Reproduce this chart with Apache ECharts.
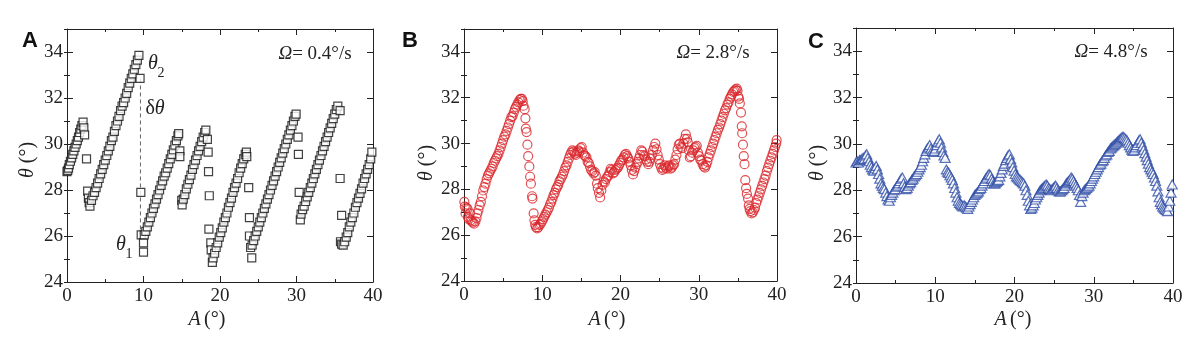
<!DOCTYPE html>
<html>
<head>
<meta charset="utf-8">
<script src="https://cdn.jsdelivr.net/npm/echarts@6/dist/echarts.min.js"></script>
<style>
  html, body { margin: 0; padding: 0; background: #fff; }
  #chart { width: 1200px; height: 341px; }
</style>
</head>
<body>
<div id="chart"></div>
<script>
// panel A (Ω = 0.4°/s): stick-slip ramps, [A, θ]
const segA1 = [[0,28.8],[0.1,28.85],[0.2,28.95],[0.3,29.1],[0.45,29.25],[0.6,29.4],[0.75,29.55],[0.9,29.7],[1.05,29.85],[1.2,30.0],[1.35,30.15],[1.5,30.3],[1.65,30.5],[1.8,30.65],[1.95,30.8],[2.1,30.95],[2.2,30.7],[2.3,30.4],[2.55,29.35],[2.7,27.95],[2.8,27.65],[2.9,27.45]];
const segA2 = [[3.0,27.3],[3.2,27.55],[3.4,27.75],[3.6,27.9],[3.8,28.1],[4.0,28.3],[4.2,28.5],[4.4,28.7],[4.6,28.9],[4.8,29.1],[5.0,29.3],[5.2,29.5],[5.4,29.7],[5.6,29.9],[5.8,30.15],[6.0,30.3],[6.2,30.55],[6.4,30.8],[6.6,31.0],[6.8,31.2],[7.0,31.45],[7.2,31.65],[7.4,31.8],[7.6,32.0],[7.8,32.2],[8.0,32.45],[8.2,32.65],[8.4,32.85],[8.6,33.05],[8.8,33.25],[9.0,33.45],[9.2,33.65],[9.4,33.85],[9.55,32.85],[9.65,27.9],[9.7,26.05],[10.0,25.7],[10.0,25.3]];
const segA3 = [[10.1,26.05],[10.3,26.2],[10.5,26.4],[10.7,26.6],[10.9,26.8],[11.1,27.0],[11.3,27.2],[11.5,27.4],[11.7,27.6],[11.9,27.8],[12.1,28.0],[12.3,28.2],[12.5,28.4],[12.7,28.6],[12.9,28.75],[13.1,28.95],[13.3,29.15],[13.5,29.35],[13.7,29.55],[13.9,29.75],[14.1,29.95],[14.3,30.15],[14.5,30.35],[14.6,30.45],[14.75,29.7],[14.75,29.45]];
const segA4 = [[15.0,27.55],[15.05,27.35],[15.2,27.6],[15.4,27.8],[15.6,28.05],[15.8,28.25],[16.0,28.45],[16.2,28.65],[16.4,28.9],[16.6,29.1],[16.8,29.3],[17.0,29.5],[17.2,29.7],[17.4,29.9],[17.6,30.1],[17.8,30.3],[18.0,30.5],[18.15,30.6],[18.35,30.2],[18.45,29.65],[18.5,28.8],[18.6,27.75],[18.55,26.3],[18.8,25.7],[18.85,25.4]];
const segA5 = [[19.0,24.85],[19.1,25.05],[19.3,25.25],[19.5,25.5],[19.7,25.7],[19.9,25.95],[20.1,26.15],[20.3,26.35],[20.5,26.6],[20.7,26.8],[20.9,27.0],[21.1,27.25],[21.3,27.45],[21.5,27.65],[21.7,27.9],[21.9,28.1],[22.1,28.3],[22.3,28.5],[22.5,28.75],[22.7,28.95],[22.9,29.15],[23.1,29.35],[23.3,29.55],[23.45,29.65],[23.5,29.45],[23.75,28.1],[23.85,26.8],[23.85,26.0],[24.15,25.05]];
const segA6 = [[24.0,25.5],[24.2,25.6],[24.4,25.8],[24.6,26.0],[24.8,26.2],[25.0,26.4],[25.2,26.6],[25.4,26.8],[25.6,27.0],[25.8,27.2],[26.0,27.4],[26.2,27.6],[26.4,27.8],[26.6,28.0],[26.8,28.2],[27.0,28.4],[27.2,28.6],[27.4,28.8],[27.6,29.0],[27.8,29.2],[28.0,29.4],[28.2,29.6],[28.4,29.8],[28.6,30.0],[28.8,30.2],[29.0,30.4],[29.2,30.6],[29.4,30.8],[29.6,31.0],[29.8,31.2],[29.95,31.3],[30.2,30.3],[30.25,29.55],[30.35,27.9]];
const segA7 = [[30.5,26.7],[30.6,26.95],[30.8,27.15],[31.0,27.3],[31.2,27.5],[31.4,27.7],[31.6,27.9],[31.8,28.1],[32.0,28.3],[32.2,28.5],[32.4,28.7],[32.6,28.9],[32.8,29.1],[33.0,29.3],[33.2,29.5],[33.4,29.7],[33.6,29.9],[33.8,30.1],[34.0,30.3],[34.2,30.5],[34.4,30.7],[34.6,30.9],[34.8,31.1],[35.0,31.3],[35.2,31.5],[35.4,31.65],[35.7,31.45],[35.7,28.5],[35.9,26.9]];
const segA8 = [[35.75,25.75],[35.9,25.65],[36.1,25.6],[36.3,25.75],[36.5,25.95],[36.7,26.15],[36.9,26.4],[37.1,26.6],[37.3,26.8],[37.5,27.0],[37.7,27.25],[37.9,27.45],[38.1,27.65],[38.3,27.85],[38.5,28.05],[38.7,28.3],[38.9,28.5],[39.1,28.7],[39.3,28.9],[39.5,29.1],[39.7,29.35],[39.85,29.65]];
// δθ guide between θ1 and θ2
const slipMarkA = [[9.6,32.85],[9.6,26.05]];

// panel B (Ω = 2.8°/s)
const dataB = [[0.05,27.45],[0.1,27.25],[0.2,26.95],[0.3,27.2],[0.45,27.15],[0.5,26.8],[0.6,26.7],[0.75,26.95],[0.85,26.65],[1.0,26.6],[1.15,26.55],[1.3,26.5],[1.45,26.6],[1.6,26.75],[1.7,26.95],[1.85,27.1],[2.0,27.3],[2.15,27.45],[2.3,27.7],[2.45,27.95],[2.6,28.1],[2.75,28.25],[2.9,28.45],[3.05,28.6],[3.2,28.7],[3.35,28.8],[3.5,28.9],[3.65,29.0],[3.8,29.15],[3.95,29.25],[4.1,29.35],[4.25,29.45],[4.4,29.55],[4.55,29.7],[4.7,29.85],[4.85,30.0],[5.0,30.15],[5.15,30.3],[5.3,30.4],[5.45,30.55],[5.6,30.7],[5.75,30.85],[5.9,31.0],[6.05,31.15],[6.2,31.2],[6.35,31.35],[6.5,31.5],[6.65,31.6],[6.8,31.7],[6.95,31.8],[7.1,31.9],[7.25,31.95],[7.4,31.95],[7.5,31.85],[7.6,31.65],[7.75,31.5],[7.85,31.1],[7.9,30.65],[8.0,30.5],[8.1,29.95],[8.2,29.45],[8.35,29.0],[8.45,28.55],[8.55,28.25],[8.7,27.7],[8.75,27.6],[8.9,26.95],[9.0,26.65],[9.1,26.45],[9.2,26.35],[9.35,26.3],[9.5,26.35],[9.65,26.45],[9.8,26.5],[9.95,26.6],[10.1,26.7],[10.25,26.8],[10.4,26.9],[10.55,27.0],[10.7,27.1],[10.85,27.2],[11.0,27.35],[11.15,27.45],[11.3,27.6],[11.45,27.75],[11.6,27.85],[11.75,28.0],[11.9,28.1],[12.05,28.2],[12.2,28.35],[12.35,28.45],[12.5,28.55],[12.65,28.65],[12.8,28.8],[12.95,28.95],[13.1,29.05],[13.25,29.2],[13.4,29.35],[13.55,29.5],[13.7,29.6],[13.85,29.7],[14.0,29.65],[14.15,29.55],[14.3,29.5],[14.45,29.6],[14.6,29.7],[14.75,29.65],[14.9,29.8],[15.05,29.85],[15.2,29.6],[15.35,29.5],[15.5,29.45],[15.65,29.4],[15.8,29.2],[15.95,29.15],[16.1,29.0],[16.25,28.85],[16.4,28.8],[16.55,28.7],[16.7,28.75],[16.85,28.6],[17.0,28.25],[17.1,28.05],[17.25,27.85],[17.4,27.65],[17.55,27.95],[17.7,28.2],[17.85,28.35],[18.0,28.3],[18.15,28.45],[18.3,28.55],[18.45,28.6],[18.6,28.75],[18.75,28.9],[18.9,28.85],[19.05,28.7],[19.2,28.75],[19.35,28.85],[19.5,28.9],[19.65,28.95],[19.8,29.05],[19.95,29.15],[20.1,29.25],[20.25,29.3],[20.4,29.4],[20.55,29.5],[20.7,29.55],[20.85,29.45],[21.0,29.35],[21.15,29.2],[21.3,29.05],[21.45,28.85],[21.6,28.65],[21.75,28.8],[21.9,28.95],[22.05,29.1],[22.2,29.2],[22.35,29.35],[22.5,29.5],[22.65,29.7],[22.8,29.65],[22.95,29.5],[23.1,29.45],[23.25,29.3],[23.4,29.2],[23.55,29.1],[23.7,29.2],[23.85,29.35],[24.0,29.5],[24.15,29.7],[24.3,29.85],[24.45,30.0],[24.6,29.75],[24.75,29.5],[24.9,29.3],[25.05,29.1],[25.2,28.95],[25.35,28.85],[25.5,28.9],[25.65,29.05],[25.8,28.95],[25.95,28.9],[26.1,29.0],[26.25,29.05],[26.4,28.9],[26.55,28.95],[26.7,29.05],[26.85,29.1],[27.0,29.3],[27.15,29.5],[27.3,29.75],[27.45,29.95],[27.6,30.0],[27.75,29.85],[27.9,29.8],[28.05,30.0],[28.2,30.2],[28.35,30.4],[28.5,30.2],[28.6,30.05],[28.75,29.7],[28.85,29.4],[29.0,29.45],[29.15,29.6],[29.3,29.7],[29.45,29.8],[29.6,29.85],[29.75,29.9],[29.9,29.6],[30.05,29.45],[30.2,29.3],[30.35,29.25],[30.5,29.1],[30.65,29.0],[30.8,28.95],[30.95,29.05],[31.1,29.2],[31.25,29.4],[31.4,29.55],[31.55,29.7],[31.7,29.85],[31.85,30.0],[32.0,30.15],[32.15,30.3],[32.3,30.45],[32.45,30.6],[32.6,30.7],[32.75,30.85],[32.9,31.0],[33.05,31.15],[33.2,31.3],[33.35,31.45],[33.5,31.55],[33.65,31.7],[33.8,31.8],[33.95,31.95],[34.1,32.05],[34.25,32.15],[34.4,32.25],[34.55,32.3],[34.7,32.35],[34.85,32.4],[34.95,32.3],[35.05,32.05],[35.15,31.95],[35.25,31.75],[35.4,31.35],[35.5,30.75],[35.55,30.45],[35.65,29.95],[35.75,29.45],[35.85,29.1],[35.95,28.4],[36.05,28.05],[36.15,27.8],[36.3,27.6],[36.4,27.3],[36.5,27.15],[36.6,27.05],[36.75,26.95],[36.9,27.0],[37.05,27.1],[37.2,27.2],[37.35,27.4],[37.5,27.55],[37.65,27.7],[37.8,27.85],[37.95,28.0],[38.1,28.15],[38.25,28.3],[38.4,28.45],[38.55,28.6],[38.7,28.8],[38.85,28.95],[39.0,29.1],[39.15,29.25],[39.3,29.4],[39.45,29.55],[39.6,29.7],[39.75,29.85],[39.9,30.0],[39.95,30.15]];

// panel C (Ω = 4.8°/s)
const dataC = [[0.0,29.2],[0.15,29.25],[0.3,29.2],[0.45,29.3],[0.6,29.3],[0.75,29.35],[0.9,29.4],[1.05,29.35],[1.2,29.5],[1.35,29.55],[1.5,29.4],[1.65,29.25],[1.8,29.1],[1.95,29.0],[2.1,28.9],[2.25,28.85],[2.4,28.95],[2.55,29.05],[2.7,28.9],[2.85,28.7],[3.0,28.5],[3.15,28.3],[3.3,28.2],[3.45,28.1],[3.6,28.05],[3.75,27.9],[3.9,27.75],[4.05,27.6],[4.2,27.55],[4.35,27.7],[4.5,27.8],[4.65,27.9],[4.8,28.0],[4.95,28.05],[5.1,28.15],[5.25,28.2],[5.4,28.3],[5.55,28.4],[5.7,28.5],[5.85,28.55],[6.0,28.3],[6.15,28.15],[6.3,28.05],[6.45,28.1],[6.6,28.2],[6.75,28.3],[6.9,28.35],[7.05,28.45],[7.2,28.5],[7.35,28.6],[7.5,28.65],[7.65,28.7],[7.8,28.8],[7.95,28.9],[8.1,29.0],[8.25,29.1],[8.4,29.25],[8.55,29.4],[8.7,29.55],[8.85,29.7],[9.0,29.8],[9.15,29.85],[9.3,29.95],[9.45,29.8],[9.6,29.7],[9.75,29.65],[9.9,29.7],[10.05,29.8],[10.2,29.95],[10.35,30.1],[10.5,30.2],[10.65,30.05],[10.8,29.85],[10.95,29.65],[11.1,29.5],[11.25,29.4],[11.4,28.9],[11.55,28.8],[11.7,28.75],[11.85,28.65],[12.0,28.55],[12.15,28.45],[12.3,28.3],[12.45,28.1],[12.6,27.9],[12.75,27.7],[12.9,27.55],[13.05,27.45],[13.2,27.4],[13.35,27.35],[13.5,27.3],[13.65,27.35],[13.8,27.3],[13.95,27.25],[14.1,27.2],[14.25,27.3],[14.4,27.4],[14.55,27.5],[14.7,27.6],[14.85,27.7],[15.0,27.8],[15.15,27.85],[15.3,27.9],[15.45,27.95],[15.6,28.05],[15.75,28.1],[15.9,28.2],[16.05,28.3],[16.2,28.4],[16.35,28.5],[16.5,28.55],[16.65,28.65],[16.8,28.7],[16.95,28.65],[17.1,28.5],[17.25,28.4],[17.4,28.3],[17.55,28.3],[17.7,28.35],[17.85,28.4],[18.0,28.45],[18.15,28.6],[18.3,28.75],[18.45,28.9],[18.6,29.05],[18.75,29.15],[18.9,29.3],[19.05,29.4],[19.2,29.5],[19.35,29.55],[19.5,29.35],[19.65,29.2],[19.8,29.0],[19.95,28.85],[20.1,28.7],[20.25,28.6],[20.4,28.55],[20.55,28.5],[20.7,28.45],[20.85,28.4],[21.0,28.35],[21.15,28.3],[21.3,28.2],[21.45,28.0],[21.6,27.8],[21.75,27.55],[21.9,27.35],[22.05,27.2],[22.2,27.25],[22.35,27.35],[22.5,27.45],[22.65,27.6],[22.8,27.7],[22.95,27.8],[23.1,27.9],[23.25,28.0],[23.4,28.05],[23.55,28.1],[23.7,28.15],[23.85,28.2],[24.0,28.25],[24.15,28.2],[24.3,28.1],[24.45,28.05],[24.6,28.0],[24.75,28.05],[24.9,28.1],[25.05,28.15],[25.2,28.2],[25.35,28.1],[25.5,28.0],[25.65,27.95],[25.8,27.95],[25.95,28.0],[26.1,28.05],[26.25,28.1],[26.4,28.2],[26.55,28.3],[26.7,28.35],[26.85,28.4],[27.0,28.45],[27.15,28.55],[27.3,28.5],[27.45,28.4],[27.6,28.3],[27.75,28.2],[27.9,28.1],[28.05,28.0],[28.2,27.8],[28.35,27.5],[28.5,27.75],[28.65,27.9],[28.8,28.0],[28.95,28.05],[29.1,28.1],[29.25,28.15],[29.4,28.2],[29.55,28.3],[29.7,28.4],[29.85,28.5],[30.0,28.6],[30.15,28.7],[30.3,28.8],[30.45,28.9],[30.6,29.0],[30.75,29.1],[30.9,29.15],[31.05,29.25],[31.2,29.3],[31.35,29.4],[31.5,29.5],[31.65,29.55],[31.8,29.65],[31.95,29.7],[32.1,29.8],[32.25,29.85],[32.4,29.9],[32.55,29.95],[32.7,30.0],[32.85,30.05],[33.0,30.1],[33.15,30.15],[33.3,30.2],[33.45,30.25],[33.6,30.3],[33.75,30.3],[33.9,30.25],[34.05,30.2],[34.2,30.15],[34.35,30.05],[34.5,29.95],[34.65,29.85],[34.8,29.75],[34.95,29.7],[35.1,29.75],[35.25,29.85],[35.4,29.95],[35.55,30.05],[35.7,30.15],[35.85,30.2],[36.0,30.05],[36.15,29.9],[36.3,29.75],[36.45,29.6],[36.6,29.45],[36.75,29.3],[36.9,29.15],[37.05,29.0],[37.2,28.9],[37.35,28.8],[37.5,28.7],[37.65,28.55],[37.8,28.4],[37.95,28.2],[38.1,27.95],[38.25,27.7],[38.4,27.5],[38.55,27.4],[38.7,27.3],[38.85,27.25],[39.0,27.2],[39.15,27.15],[39.3,27.1],[39.45,27.3],[39.6,27.55],[39.75,27.9],[39.9,28.25]];

const panelLabels = ['A', 'B', 'C'];
const omegaLabels = ['0.4°/s', '2.8°/s', '4.8°/s'];
const xRange = [0, 40];
const yRange = [24, 35];

const serif = '"Liberation Serif", "DejaVu Serif", serif';
const ink = '#222';

const boxes = [
  { left: 67, top: 29, width: 306, height: 253 },
  { left: 464, top: 29, width: 313, height: 252 },
  { left: 856, top: 28, width: 317, height: 255 }
];

const chart = echarts.init(document.getElementById('chart'));

const xAxes = [];
const yAxes = [];
boxes.forEach((b, i) => {
  ['bottom', 'top'].forEach(pos => {
    xAxes.push({
      gridIndex: i, type: 'value', position: pos,
      min: xRange[0], max: xRange[1], interval: 10,
      axisLine: { onZero: false, lineStyle: { color: ink, width: 1 } },
      axisTick: { inside: true, length: 6, lineStyle: { color: ink } },
      minorTick: { show: true, splitNumber: 2, length: 3, lineStyle: { color: ink } },
      splitLine: { show: false },
      axisLabel: { show: pos === 'bottom', margin: 5, fontFamily: serif, fontSize: 19, color: ink }
    });
  });
  ['left', 'right'].forEach(pos => {
    // major ticks + labels every 2
    yAxes.push({
      gridIndex: i, type: 'value', position: pos,
      min: yRange[0], max: yRange[1], interval: 2,
      axisLine: { onZero: false, lineStyle: { color: ink, width: 1 } },
      axisTick: { inside: true, length: 6, lineStyle: { color: ink } },
      splitLine: { show: false },
      axisLabel: { show: pos === 'left', showMaxLabel: false, margin: 4, fontFamily: serif, fontSize: 19, color: ink }
    });
    // minor ticks every 1
    yAxes.push({
      gridIndex: i, type: 'value', position: pos,
      min: yRange[0], max: yRange[1], interval: 1,
      axisLine: { show: false },
      axisTick: { inside: true, length: 3, lineStyle: { color: ink } },
      splitLine: { show: false },
      axisLabel: { show: false }
    });
  });
});

const squares = {
  symbol: 'rect', symbolSize: 8,
  itemStyle: { color: '#fff', borderColor: '#111', borderWidth: 1.2 }
};

const series = [
  {
    type: 'line', xAxisIndex: 0, yAxisIndex: 0, data: slipMarkA,
    symbol: 'none', silent: true, z: 1,
    lineStyle: { color: '#666', width: 1, type: [4, 3] }
  }
];
[segA1, segA2, segA3, segA4, segA5, segA6, segA7, segA8].forEach(seg => {
  series.push(Object.assign({ type: 'scatter', xAxisIndex: 0, yAxisIndex: 0, data: seg, z: 2 }, squares));
});
series.push({
  type: 'scatter', xAxisIndex: 2, yAxisIndex: 4, data: dataB,
  symbol: 'circle', symbolSize: 9,
  itemStyle: { color: 'rgba(255,255,255,0)', borderColor: '#d9252b', borderWidth: 1.2 }
});
series.push({
  type: 'scatter', xAxisIndex: 4, yAxisIndex: 8, data: dataC,
  symbol: 'triangle', symbolSize: [10, 9],
  itemStyle: { color: '#fff', borderColor: '#2f4ea6', borderWidth: 1.2 }
});

// texts
const graphic = [];
const letterPos = [[30, 41], [410, 41], [816, 42]];
const omegaPos = [[315, 54], [713, 53], [1111, 52]];
const xNamePos = [[207, 320], [607, 320], [1013, 320]];
const yNamePos = [[28, 160], [427, 163], [818, 163]];
const rich = {
  i: { fontFamily: serif, fontStyle: 'italic', fontSize: 20, fill: ink },
  n: { fontFamily: serif, fontSize: 20, fill: ink },
  io: { fontFamily: serif, fontStyle: 'italic', fontSize: 19, fill: ink },
  no: { fontFamily: serif, fontSize: 19, fill: ink }
};
panelLabels.forEach((l, i) => {
  graphic.push({
    type: 'text', x: letterPos[i][0], y: letterPos[i][1],
    style: { text: l, font: 'bold 22px "Liberation Sans", Arial, sans-serif', fill: '#111', align: 'center', verticalAlign: 'middle' }
  });
  graphic.push({
    type: 'text', x: omegaPos[i][0], y: omegaPos[i][1],
    style: { text: '{io|Ω}{no|= ' + omegaLabels[i] + '}', rich: rich, align: 'center', verticalAlign: 'middle' }
  });
  graphic.push({
    type: 'text', x: xNamePos[i][0], y: xNamePos[i][1],
    style: { text: '{i|A} {n|(°)}', rich: rich, align: 'center', verticalAlign: 'middle' }
  });
  graphic.push({
    type: 'text', x: yNamePos[i][0], y: yNamePos[i][1], rotation: Math.PI / 2,
    style: { text: '{i|θ}{n| (°)}', rich: rich, align: 'center', verticalAlign: 'middle' }
  });
});
// θ2, θ1, δθ in panel A
const annot = [
  { x: 153, y: 64, text: '{i|θ}' }, { x: 161, y: 73, text: '{s|2}' },
  { x: 121, y: 245, text: '{i|θ}' }, { x: 129, y: 254, text: '{s|1}' },
  { x: 155, y: 109, text: '{n|δ}{i|θ}' }
];
annot.forEach(a => {
  graphic.push({
    type: 'text', x: a.x, y: a.y,
    style: {
      text: a.text, align: 'center', verticalAlign: 'middle',
      rich: Object.assign({ s: { fontFamily: serif, fontSize: 14, fill: ink } }, rich)
    }
  });
});

chart.setOption({
  animation: false,
  backgroundColor: '#fff',
  grid: boxes.map(b => Object.assign({ containLabel: false }, b)),
  xAxis: xAxes,
  yAxis: yAxes,
  series: series,
  graphic: graphic
});
</script>
</body>
</html>
